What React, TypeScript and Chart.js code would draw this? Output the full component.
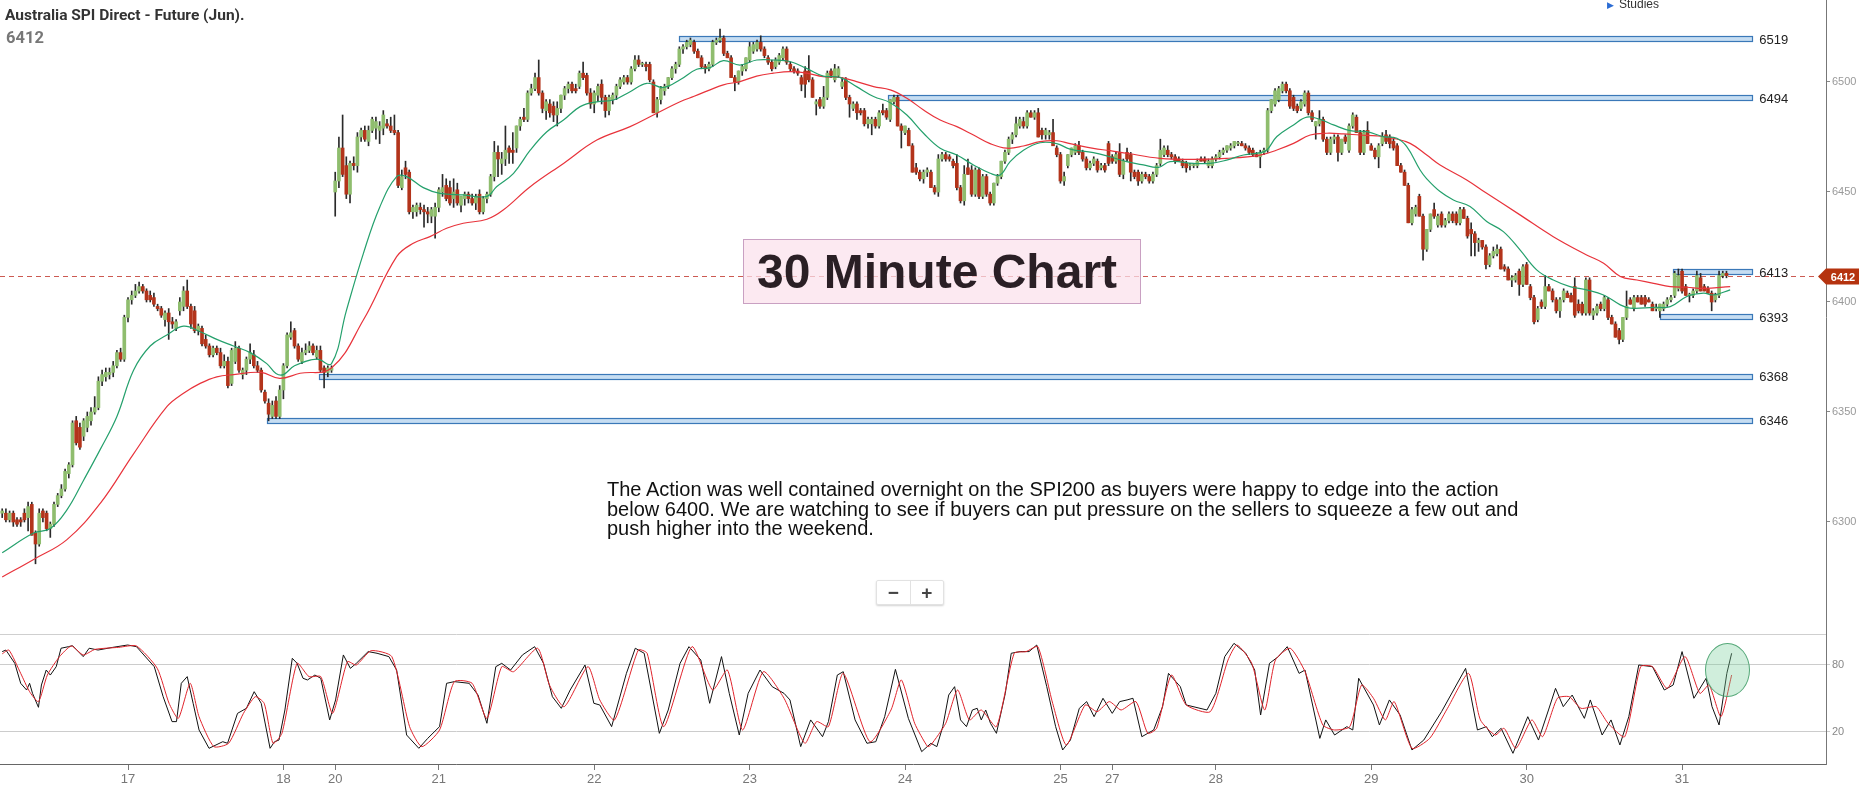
import React, { useEffect, useRef } from "react";
import { Chart, registerables } from "chart.js";

Chart.register(...registerables);

// ---------- DATA ----------
// 30-minute candles: [open, high, low, close]
const candles: [number, number, number, number][] = [
  [6304,6306,6302,6305],[6304,6306,6300,6301],[6301,6305,6300,6304],[6304,6305,6298,6300],[6301,6302,6298,6299],
  [6301,6302,6298,6300],[6304,6306,6300,6301],[6302,6309,6296,6307],[6308,6309,6294,6294],[6295,6296,6281,6290],
  [6290,6306,6289,6304],[6305,6306,6300,6302],[6304,6305,6296,6297],[6297,6300,6293,6299],[6299,6309,6298,6308],
  [6308,6313,6307,6312],[6312,6317,6311,6315],[6315,6324,6314,6323],[6322,6327,6320,6326],[6326,6346,6325,6345],
  [6346,6348,6335,6336],[6343,6345,6333,6334],[6339,6347,6337,6346],[6343,6350,6341,6348],[6346,6352,6344,6350],
  [6350,6357,6349,6352],[6352,6366,6351,6364],[6364,6369,6362,6367],[6366,6370,6364,6368],[6367,6370,6365,6368],
  [6368,6373,6366,6371],[6371,6378,6370,6377],[6377,6379,6373,6374],[6374,6394,6373,6393],[6393,6402,6391,6401],
  [6401,6405,6399,6403],[6403,6408,6402,6405],[6405,6409,6404,6407],[6407,6408,6404,6405],[6405,6406,6400,6401],
  [6403,6405,6400,6401],[6402,6404,6398,6399],[6398,6399,6396,6397],[6397,6398,6393,6394],[6392,6396,6389,6395],
  [6395,6397,6383,6391],[6391,6393,6388,6390],[6388,6392,6387,6391],[6396,6402,6394,6400],[6398,6407,6396,6405],
  [6405,6410,6397,6398],[6398,6399,6388,6390],[6396,6398,6386,6387],[6387,6390,6385,6389],[6388,6389,6380,6381],
  [6383,6385,6379,6380],[6380,6381,6375,6376],[6376,6380,6375,6379],[6379,6380,6376,6377],[6377,6379,6370,6371],
  [6371,6376,6370,6373],[6373,6375,6361,6362],[6363,6379,6362,6378],[6373,6382,6372,6379],[6379,6380,6368,6369],
  [6367,6370,6365,6369],[6369,6375,6367,6374],[6374,6381,6372,6377],[6376,6378,6370,6371],[6371,6373,6368,6369],
  [6369,6370,6359,6360],[6359,6360,6354,6355],[6354,6356,6346,6349],[6348,6355,6347,6353],[6355,6357,6347,6348],
  [6348,6362,6347,6360],[6360,6372,6356,6371],[6371,6386,6370,6385],[6384,6391,6383,6386],[6387,6388,6379,6380],
  [6380,6381,6373,6374],[6373,6379,6372,6377],[6377,6381,6376,6378],[6378,6382,6377,6380],[6380,6381,6376,6377],
  [6375,6380,6374,6378],[6378,6380,6368,6369],[6370,6371,6361,6368],[6368,6371,6366,6370],[6369,6371,6368,6370],
  // 20
  [6450,6459,6439,6455],[6455,6475,6452,6470],[6470,6485,6457,6458],[6462,6466,6447,6449],[6449,6464,6445,6463],
  [6463,6466,6460,6462],[6462,6477,6459,6475],[6475,6479,6473,6478],[6478,6480,6473,6474],[6473,6480,6471,6478],
  [6478,6484,6477,6483],[6479,6484,6474,6482],[6478,6482,6472,6480],[6479,6487,6476,6485],[6481,6483,6479,6480],
  [6480,6484,6477,6478],[6478,6485,6476,6477],[6477,6478,6452,6453],[6452,6460,6451,6457],[6461,6464,6456,6458],
  [6459,6460,6440,6441],[6441,6444,6438,6443],[6441,6445,6439,6444],[6443,6445,6440,6442],[6442,6444,6434,6441],
  [6441,6443,6436,6440],[6439,6443,6436,6442],[6439,6445,6429,6443],[6443,6452,6441,6451],[6450,6458,6448,6452],
  [6453,6456,6446,6447],[6452,6455,6444,6445],[6447,6456,6443,6450],[6451,6454,6444,6445],[6444,6448,6441,6448],
  [6447,6450,6444,6449],[6449,6450,6445,6447],[6447,6449,6444,6445],[6445,6449,6442,6448],[6449,6451,6440,6441],
  [6441,6448,6440,6447],[6447,6450,6445,6449],[6449,6458,6448,6457],[6457,6473,6455,6468],[6468,6471,6457,6465],
  [6463,6468,6458,6465],[6465,6480,6462,6469],[6470,6471,6463,6468],[6469,6477,6463,6468],[6470,6480,6468,6480],
  [6480,6484,6478,6483],[6484,6488,6482,6483],[6483,6496,6482,6495],[6495,6499,6494,6497],[6497,6504,6496,6502],
  [6502,6510,6494,6495],[6495,6496,6486,6488],[6487,6492,6483,6491],[6490,6492,6484,6486],[6489,6491,6482,6485],
  [6485,6491,6480,6488],[6488,6494,6486,6494],[6494,6498,6492,6497],[6497,6500,6495,6499],[6499,6500,6495,6496],
  [6497,6499,6495,6496],[6498,6505,6497,6504],[6504,6509,6501,6502],[6503,6504,6494,6495],[6495,6497,6488,6490],
  [6490,6496,6486,6495],[6494,6499,6491,6498],[6499,6501,6490,6493],[6493,6494,6484,6487],[6487,6494,6485,6493],
  [6492,6495,6490,6494],[6494,6499,6492,6498],[6498,6502,6497,6501],[6500,6503,6499,6502],[6502,6503,6499,6500],
  [6500,6507,6499,6506],[6506,6512,6505,6510],[6510,6512,6507,6508],[6508,6509,6507,6508],[6508,6509,6505,6507],
  [6508,6509,6500,6501],[6500,6501,6486,6486],[6486,6493,6484,6492],[6492,6498,6490,6497],[6496,6499,6494,6498],
  [6498,6502,6497,6502],[6502,6507,6501,6506],[6506,6509,6504,6508],[6508,6516,6507,6515],[6515,6517,6513,6516],
  [6516,6519,6515,6518],[6517,6520,6516,6519],
  // 22-23
  [6518,6519,6513,6514],[6514,6515,6511,6511],[6511,6512,6506,6507],[6507,6508,6504,6506],[6506,6509,6505,6508],
  [6508,6519,6507,6518],[6518,6520,6517,6519],[6519,6524,6518,6520],[6520,6521,6512,6513],[6513,6514,6511,6511],
  [6511,6512,6502,6502],[6502,6503,6496,6500],[6500,6505,6499,6505],[6505,6508,6503,6507],[6506,6511,6505,6511],
  [6510,6518,6509,6516],[6514,6518,6513,6517],[6515,6519,6514,6518],[6518,6521,6514,6515],[6515,6516,6511,6512],
  [6511,6512,6508,6509],[6509,6510,6505,6506],[6507,6511,6506,6510],[6509,6513,6508,6512],[6511,6516,6510,6515],
  [6515,6516,6508,6509],[6508,6509,6505,6506],[6506,6507,6504,6505],[6505,6506,6503,6504],[6502,6503,6496,6499],
  [6505,6507,6493,6499],[6505,6512,6500,6501],[6501,6502,6493,6493],[6490,6492,6485,6491],[6492,6493,6488,6489],
  [6489,6498,6488,6493],[6493,6505,6492,6504],[6505,6506,6502,6503],[6501,6508,6500,6506],[6503,6507,6502,6506],
  [6498,6502,6497,6500],[6501,6502,6492,6493],[6493,6494,6484,6490],[6488,6491,6487,6490],[6490,6491,6483,6486],
  [6487,6488,6485,6486],[6487,6488,6480,6481],[6481,6484,6479,6483],[6481,6484,6476,6483],[6483,6484,6479,6480],
  [6480,6487,6479,6486],[6487,6490,6485,6486],[6487,6488,6483,6484],[6483,6492,6482,6492],[6491,6494,6490,6493],
  [6493,6494,6480,6480],[6480,6481,6470,6478],[6477,6480,6476,6480],[6478,6479,6471,6471],[6471,6472,6459,6459],
  [6461,6463,6458,6459],[6459,6460,6455,6456],[6456,6460,6454,6459],[6459,6461,6457,6460],[6459,6460,6452,6452],
  [6452,6453,6449,6450],[6450,6467,6448,6465],[6465,6468,6464,6467],[6467,6468,6464,6465],[6466,6467,6464,6465],
  [6464,6465,6461,6462],[6463,6467,6451,6452],[6452,6453,6445,6446],[6446,6462,6444,6458],[6461,6465,6458,6458],
  [6460,6462,6448,6449],[6449,6461,6448,6460],[6460,6461,6447,6448],[6448,6458,6447,6457],[6457,6458,6448,6449],
  [6449,6450,6444,6445],[6445,6454,6444,6454],[6454,6458,6453,6457],[6457,6464,6456,6464],[6464,6469,6463,6468],
  [6468,6475,6467,6474],[6474,6477,6472,6476],[6476,6484,6475,6481],[6480,6484,6479,6483],[6482,6484,6479,6480],
  [6480,6487,6479,6486],[6486,6487,6484,6484],[6484,6487,6483,6486],[6486,6488,6475,6475],[6478,6479,6474,6476],
  [6476,6479,6474,6478],[6476,6478,6474,6477],[6477,6483,6471,6471],[6470,6471,6466,6467],[6467,6468,6454,6455],
  [6455,6459,6453,6457],
  // 25-28
  [6462,6467,6461,6467],[6467,6470,6466,6470],[6468,6472,6467,6471],[6471,6473,6467,6468],[6468,6469,6464,6465],
  [6465,6466,6460,6461],[6461,6464,6460,6463],[6463,6466,6462,6465],[6464,6465,6459,6460],[6461,6463,6460,6462],
  [6462,6463,6459,6460],[6472,6473,6462,6463],[6466,6467,6463,6464],[6464,6468,6463,6467],[6468,6472,6457,6458],
  [6458,6465,6456,6464],[6468,6470,6464,6465],[6467,6468,6455,6459],[6459,6460,6456,6457],[6459,6460,6453,6455],
  [6455,6459,6454,6458],[6458,6459,6456,6457],[6457,6458,6454,6455],[6455,6459,6454,6458],[6458,6463,6457,6462],
  [6463,6474,6462,6469],[6467,6471,6466,6470],[6469,6471,6466,6467],[6467,6468,6465,6466],[6466,6467,6463,6464],
  [6465,6466,6464,6464],[6464,6465,6461,6462],[6463,6464,6459,6461],[6462,6463,6460,6462],[6462,6463,6461,6462],
  [6462,6465,6461,6464],[6465,6466,6464,6464],[6465,6466,6463,6464],[6462,6465,6461,6464],[6462,6466,6461,6465],
  [6465,6467,6464,6466],[6466,6469,6465,6468],[6468,6470,6467,6469],[6469,6471,6468,6471],[6470,6472,6469,6471],
  [6471,6473,6470,6473],[6472,6473,6471,6472],[6472,6473,6471,6471],[6471,6472,6469,6470],[6470,6471,6467,6468],
  [6469,6470,6466,6467],[6467,6468,6466,6466],[6466,6469,6461,6468],[6468,6470,6467,6469],[6469,6488,6468,6487],
  [6487,6492,6486,6492],[6490,6497,6489,6496],[6492,6498,6491,6497],[6496,6500,6495,6499],[6499,6500,6495,6496],
  [6496,6497,6488,6489],[6493,6494,6487,6488],[6489,6490,6486,6487],[6488,6492,6487,6491],[6490,6496,6489,6495],
  [6495,6496,6485,6486],[6486,6487,6482,6483],[6480,6482,6474,6482],[6481,6487,6480,6483],[6483,6484,6473,6474],
  [6474,6475,6467,6468],[6468,6475,6467,6474],[6474,6476,6472,6475],[6475,6476,6464,6468],[6468,6474,6467,6474],
  [6475,6476,6472,6473],[6469,6481,6468,6480],[6480,6486,6479,6485],[6484,6485,6477,6477],[6477,6478,6467,6468],
  [6468,6478,6467,6477],[6478,6482,6472,6472],[6471,6472,6469,6469],[6469,6470,6465,6466],[6466,6472,6461,6471],
  [6472,6477,6471,6475],[6476,6478,6472,6473],[6475,6476,6470,6472],[6473,6474,6469,6470],[6471,6472,6462,6462],
  [6462,6463,6459,6459],[6459,6460,6453,6453],[6453,6454,6436,6436],[6436,6443,6435,6442],[6440,6444,6439,6443],
  [6448,6449,6439,6439],[6439,6440,6419,6424],[6424,6433,6423,6433],[6433,6440,6432,6440],[6442,6445,6438,6439],
  // 29-31
  [6435,6440,6434,6439],[6440,6441,6434,6435],[6435,6438,6434,6437],[6437,6441,6436,6440],[6440,6441,6436,6437],
  [6440,6441,6435,6436],[6436,6443,6435,6442],[6442,6443,6438,6438],[6438,6439,6429,6430],[6433,6436,6421,6431],
  [6431,6432,6421,6427],[6427,6429,6423,6428],[6428,6428,6424,6425],[6425,6426,6415,6417],[6417,6422,6416,6421],
  [6421,6425,6420,6423],[6422,6426,6421,6424],[6424,6425,6415,6415],[6416,6417,6414,6415],[6415,6416,6410,6410],
  [6410,6412,6407,6411],[6410,6413,6409,6412],[6414,6415,6403,6408],[6408,6417,6407,6416],[6417,6418,6408,6408],
  [6407,6408,6401,6402],[6402,6403,6390,6391],[6392,6398,6391,6397],[6400,6401,6397,6398],[6398,6412,6397,6407],
  [6407,6408,6405,6405],[6405,6406,6400,6401],[6401,6402,6395,6396],[6396,6402,6393,6401],[6401,6406,6400,6405],
  [6404,6405,6402,6402],[6403,6404,6400,6400],[6407,6411,6393,6394],[6399,6401,6395,6396],[6399,6400,6394,6395],
  [6395,6411,6394,6410],[6410,6411,6394,6395],[6394,6397,6392,6396],[6395,6399,6394,6398],[6399,6400,6396,6397],
  [6397,6403,6396,6402],[6401,6402,6392,6393],[6393,6394,6390,6390],[6390,6391,6384,6384],[6387,6388,6381,6383],
  [6383,6393,6382,6393],[6393,6405,6392,6398],[6401,6402,6399,6399],[6397,6403,6396,6402],[6402,6403,6400,6400],
  [6402,6403,6399,6399],[6402,6403,6398,6399],[6401,6402,6400,6400],[6399,6400,6396,6396],[6397,6399,6396,6397],
  [6396,6399,6393,6399],[6397,6400,6396,6399],[6399,6402,6398,6401],[6401,6403,6400,6402],[6403,6414,6402,6413],
  [6406,6415,6405,6412],[6414,6415,6404,6405],[6407,6408,6403,6403],[6403,6404,6400,6403],[6403,6406,6402,6405],
  [6405,6414,6404,6412],[6411,6413,6405,6405],[6407,6408,6405,6405],[6406,6407,6404,6404],[6404,6405,6396,6400],
  [6401,6404,6400,6403],[6403,6414,6402,6412],[6412,6414,6411,6413],[6413,6414,6411,6412],
];

// Moving averages: [bar index, price]
const emaFast: [number, number][] = [
  [0,6286],[8.5,6295],[13,6297],[17.5,6305.5],[22,6319],[26.5,6333],[31,6348],[35.5,6369],[40,6380],[44.5,6385],
  [49,6389],[53.5,6386.5],[58,6383],[62.5,6380],[67,6377],[71.5,6372],[74,6367.5],[76,6367],[79,6371],[85,6374],
  [89,6372],[93,6396],[97.6,6422],[102,6443],[106.6,6457],[109.3,6457],[113.8,6452],[118.3,6449.4],[124.6,6448.7],
  [131,6448],[133.6,6452.4],[138.2,6458.5],[142.7,6469],[147.2,6477.4],[151.7,6482.7],[156.2,6488.8],[160.7,6491],
  [165.2,6491.8],[169.7,6495.6],[174.2,6499.4],[178.7,6497.5],[183.2,6501],[187.7,6505.8],[191.3,6506.5],
  [194.9,6509.7],[199.4,6507.7],[203.9,6510],[208.4,6510],[212.9,6509.3],[217.4,6506.2],[221.9,6502.7],
  [226.4,6502.1],[230.9,6497.9],[235.5,6493.4],[240,6490.6],[244.5,6485],[249,6476.7],[253.5,6469.9],[258,6466.8],
  [262.5,6462.3],[267,6458.5],[269.7,6457.7],[272.4,6463.8],[276,6469],[280.5,6472.4],[285,6472],[288.6,6469.5],
  [294.9,6467.9],[299.4,6466],[303.9,6463.8],[308.4,6462.3],[312.5,6461.2],[315.6,6463.8],[321.9,6463],[326.4,6463],
  [330.9,6464.5],[335.5,6466.8],[340,6467.9],[341.8,6469.1],[344.5,6475.2],[349,6480.5],[352.6,6484],[356.2,6483],
  [359.8,6480.5],[364.3,6477.9],[368.8,6477.4],[373.3,6475.2],[376.9,6474.4],[379.6,6470.6],[383.2,6460],[385,6456],
  [388.6,6450.2],[392.2,6446.4],[396.7,6443.4],[401.2,6436.6],[405.7,6432],[410.2,6423.7],[414.7,6414.6],
  [419.2,6410],[423.7,6407],[428.2,6405.5],[432.8,6403.2],[437.3,6398.7],[440,6397.2],[446.3,6397.6],[450.8,6397.9],
  [455.3,6402.5],[459.8,6404],[462.5,6403.2],[467,6405.5],
];
const emaSlow: [number, number][] = [
  [0,6275],[8.5,6283],[17.5,6292],[26.5,6308.5],[35.5,6331],[44.5,6352.4],[49,6358.5],[53.5,6363],[58,6366],
  [62.5,6367],[70,6368],[75,6365.3],[80.5,6367.6],[89,6370],[97.6,6391.8],[106.6,6420.6],[111.1,6426.7],
  [115.6,6429.7],[120.1,6433.5],[124.6,6435.8],[131,6437.6],[135.4,6441.8],[142.7,6452.4],[151.7,6463],
  [160.7,6473.6],[169.7,6479.7],[176,6485],[183.2,6491],[187,6493.5],[194.9,6498.7],[199.4,6500.2],[203.9,6502.7],
  [208.4,6504],[212.9,6504.7],[217.4,6504],[221.9,6502.4],[226.4,6502.1],[230.9,6500.2],[235.5,6497.9],[240,6496.4],
  [244.5,6492.6],[249,6487.3],[253.5,6482.7],[258,6479.7],[262.5,6475.9],[267,6472],[271.5,6469.9],[276,6470.9],
  [280.5,6472.9],[285,6473.3],[288.6,6472],[294.9,6469.8],[299.4,6468.8],[303.9,6467.6],[312.9,6465.3],
  [321.9,6464.8],[330.9,6465.3],[340,6466.8],[344.5,6469.1],[349,6472.1],[353.5,6475.9],[358,6476.7],[362.5,6476.4],
  [367,6475.9],[371.5,6475.5],[376,6474.4],[380.5,6472.1],[385,6466.8],[388.6,6462.3],[395.8,6455.5],[401.2,6449.4],
  [410.2,6439.6],[419.2,6429.7],[428.2,6421.4],[432.8,6417.6],[437.3,6411.6],[441.8,6410],[446.3,6408.5],
  [450.8,6407],[455.3,6406.7],[459.8,6406.2],[467,6407],
];

// Stochastic oscillator: [bar index, value]
const stochK: [number, number][] = [
  [0,92],[1,93.4],[3.4,81.5],[5,63.6],[6.6,57.6],[7.4,63.6],[8.2,54.6],[9.8,42.1],[10.6,62.1],[11.9,75.5],[13,71],
  [14.6,78.5],[15.9,95],[17.9,96.4],[19,97.3],[21.9,87.5],[23.5,95],[25.9,93.4],[29.9,95.8],[33.9,97.9],[36.3,96.4],
  [41.1,78.5],[43.5,51.6],[45.9,29.3],[47.1,29.3],[48.4,63.6],[50,69.6],[51.6,45.7],[53.2,21.8],[55.9,5.4],
  [59.6,11.3],[60.9,9.9],[63.6,36.7],[66,41.2],[68.1,56.1],[70,45.7],[72.4,5.4],[73.6,11.3],[74.8,12.8],[76.4,39.7],
  [78.4,86],[79.7,81.5],[81.3,68.1],[82.5,66.6],[84.5,71],[86.1,68.1],[88.5,30.8],[90.1,48.7],[92.2,89],[94.1,77],
  [95.7,81.5],[98.9,92],[101.3,90.5],[104.5,87.5],[106.6,75.5],[109.3,17.3],[112.6,5.4],[115,14.3],[118.2,24.8],
  [120.1,63.6],[122.2,65.1],[126.2,63.6],[128.6,53.1],[131,27.8],[133.4,78.5],[135,81.5],[137.4,75.5],[140.6,89],
  [143.9,96.4],[146.3,81.5],[148.7,51.6],[151.1,41.2],[153.5,57.6],[157.5,80],[159.9,45.7],[161.5,44.2],
  [164.7,24.8],[168.7,72.5],[171.1,95],[173.5,90.5],[177.6,18.8],[180,39.7],[183.2,81.5],[185.6,96.4],[188.8,84.5],
  [191.2,45.7],[194.4,87.5],[196.5,54.6],[199.2,17.3],[201.6,54.6],[204.8,75.5],[208.1,60.6],[211.3,54.6],
  [212.9,48.7],[215.8,6.9],[218.5,30.8],[221.7,15.8],[223.3,29.3],[225.7,71],[227.3,74],[230.5,30.8],[233.7,9.9],
  [236.1,11.3],[238.5,33.7],[241.4,76.1],[244.9,32.2],[248.5,2.4],[251,9.9],[252.6,6.9],[254.2,24.8],[255.8,53.1],
  [257.4,60.6],[259,30.8],[260.6,24.8],[262.2,39.7],[263.5,41.2],[264.6,30.8],[265.8,39.7],[267.1,27.8],
  [268.7,18.8],[271.1,54.6],[272.7,90.5],[275.1,92],[277.5,92],[279.6,97.9],[282.3,60.6],[284.7,24.8],[286.6,3.9],
  [288.7,12.8],[291.1,41.2],[293.1,47.2],[295.1,33.7],[297.5,50.2],[300,36.7],[302,47.2],[304,48.7],[305.6,50.2],
  [308,15.8],[311.2,21.8],[313.6,42.7],[315.2,72.5],[318.4,60.6],[320,44.2],[325.6,39.7],[328,54.6],[330.4,87.5],
  [332.9,99.4],[336.1,90.5],[338.5,75.5],[340.1,35.2],[342.5,81.5],[344.9,87.5],[347.3,96.4],[350.5,72.5],
  [352.1,75.5],[356.1,14.3],[357.7,30.8],[360.1,17.3],[363.4,24.8],[365,21.8],[366.6,68.1],[370.6,44.2],
  [372.2,26.3],[374.9,48.7],[377.8,35.2],[381,3.9],[384.2,12.8],[389,38.2],[393,62.1],[395.5,77],[398.7,21.8],
  [401.1,24.8],[402.7,15.8],[405.1,23.3],[408.3,0.9],[412.3,33.7],[415.2,12.8],[417.9,39.7],[419.8,59.1],
  [421.9,42.7],[424.3,53.1],[427.6,32.2],[429.2,48.7],[432.4,17.3],[434.8,30.8],[437.2,8.4],[439.6,33.7],[442.3,80],
  [446,78.5],[449.2,57.6],[451.6,62.1],[454,92],[457.2,50.2],[460.5,68.1],[462.1,42.7],[464,26.3],[466.1,72.5],
  [467.4,90.5],
];
const stochD: [number, number][] = [
  [0,90],[1.8,93.4],[5,72.5],[7.4,56.1],[9.8,47.2],[12.2,71],[15.5,87.5],[18.7,97],[21.9,89],[25.1,94],[31.5,95.8],
  [36.3,97],[41.9,77],[45.1,45.7],[47.6,32.2],[50.8,63.6],[53.2,33.7],[57.2,6.9],[61.2,9.9],[65.2,36.7],[68.4,51.6],
  [70.8,45.7],[73.2,9.9],[75.6,18.8],[79.7,81.5],[82.9,69.6],[86.1,69.6],[89.3,36.7],[93.3,83],[95.7,80],
  [99.7,92.8],[105.3,87.5],[110.1,24.8],[113.4,6.9],[118.2,21.8],[122.2,65.1],[127,63.6],[131,32.2],[135,78.5],
  [138.2,74],[144.7,95],[147.9,62.1],[151.9,42.7],[158.3,78.5],[161.5,48.7],[165.5,30.8],[171.9,93.4],[174.3,90.5],
  [178.8,24.8],[186.4,96.4],[192,57.6],[196,75.5],[200.1,21.8],[205.7,74],[211.3,50.2],[216.9,9.9],[220.1,29.3],
  [223.3,24.8],[227.3,72.5],[234.5,11.3],[240.2,39.7],[243,66.6],[246.6,27.8],[250.1,6.9],[251,8.4],[255,27.8],
  [258.2,57.6],[261.4,30.8],[264.6,39.7],[268.7,24.8],[273.5,90.5],[276.7,92],[279.9,96.4],[283.9,45.7],
  [287.6,8.4],[292.7,44.2],[295.9,38.2],[299.2,47.2],[302.4,39.7],[306.4,47.2],[309.6,18.8],[312,23.3],[316,71],
  [320,44.2],[326.5,38.2],[331.3,84.5],[333.7,97.9],[337.7,81.5],[341.2,39.7],[344.1,84.5],[348.1,95],[352.1,74],
  [356.9,26.3],[360.1,21.8],[364.2,24.8],[367.4,62.1],[370.6,50.2],[373.8,30.8],[376.2,47.2],[381,5.4],
  [385.8,14.3],[390.6,41.2],[396.3,72.5],[399.5,30.8],[403.5,17.3],[405.9,23.3],[409.1,5.4],[413.4,30.8],
  [416.3,15.8],[420.3,50.2],[423.5,51.6],[426.7,41.2],[430.8,42.7],[434,27.8],[438.5,15.8],[442.8,78.5],[446,78.5],
  [450,59.1],[454.8,87.5],[458.8,54.6],[461.3,62.1],[464.5,33.7],[467.4,71],
];

// Axis labels
const dayLabels = ["17", "18", "20", "21", "22", "23", "24", "25", "27", "28", "29", "30", "31"];
const dayStartBars = [34, 76, 90, 118, 160, 202, 244, 286, 300, 328, 370, 412, 454];
const priceTicks = [6300, 6350, 6400, 6450, 6500];
const oscTicks = [20, 80];

// Support / resistance levels (drawn position, printed label)
const levelValues = [6519.5, 6492.5, 6413.5, 6393.2, 6366, 6346];
const levelLabels = ["6519", "6494", "6413", "6393", "6368", "6346"];
const levelStartBars = [183, 239.5, 451.5, 448, 85.5, 71.5];
const levelEndBar = 473;
const lastPrice = 6412;

// ---------- LAYOUT CONSTANTS ----------
const W = 1862;
const MAIN_H = 634;
const OSC_H = 158;
const AXIS_W = 36;
const X_MIN = -0.595;
const X_MAX = 492.9;
const P_MIN = 6249.09;
const P_MAX = 6537.27;
const O_MIN = -8.66;
const O_MAX = 107.76;
const FONT = 'Arial, "Liberation Sans", sans-serif';

const UP = "#8fbd6e";
const DOWN = "#b3341b";

const levelsPlugin = {
  id: "levels",
  beforeDatasetsDraw(chart: any) {
    const { ctx, scales, chartArea } = chart;
    const x = scales.x, y = scales.y;
    ctx.save();
    const yp = Math.round(y.getPixelForValue(lastPrice)) + 0.5;
    ctx.strokeStyle = "#cc5a52";
    ctx.lineWidth = 1;
    ctx.setLineDash([5, 4]);
    ctx.beginPath();
    ctx.moveTo(chartArea.left, yp);
    ctx.lineTo(chartArea.right - 8, yp);
    ctx.stroke();
    ctx.setLineDash([]);
    levelValues.forEach((v, k) => {
      const x0 = Math.round(x.getPixelForValue(levelStartBars[k])) + 0.5;
      const x1 = Math.round(x.getPixelForValue(levelEndBar)) + 0.5;
      const yc = Math.round(y.getPixelForValue(v));
      ctx.fillStyle = "#c6ddf2";
      ctx.fillRect(x0, yc - 3, x1 - x0, 6);
      ctx.strokeStyle = "#3a78b8";
      ctx.lineWidth = 1.2;
      ctx.strokeRect(x0, yc - 2.5, x1 - x0, 5);
    });
    ctx.restore();
  },
  afterDraw(chart: any) {
    const { ctx, scales, chartArea } = chart;
    const x = scales.x, y = scales.y;
    ctx.save();
    ctx.font = "13px " + FONT;
    ctx.fillStyle = "#222";
    ctx.textBaseline = "middle";
    ctx.textAlign = "left";
    levelValues.forEach((v, k) => {
      const x1 = x.getPixelForValue(levelEndBar);
      ctx.fillText(levelLabels[k], x1 + 7, y.getPixelForValue(v) + 1);
    });
    // last price tag
    const yp = Math.round(y.getPixelForValue(lastPrice)) + 0.5;
    const r = chartArea.right;
    ctx.fillStyle = "#b5330f";
    ctx.beginPath();
    ctx.moveTo(r - 8, yp);
    ctx.lineTo(r, yp - 8);
    ctx.lineTo(r + 33, yp - 8);
    ctx.lineTo(r + 33, yp + 8);
    ctx.lineTo(r, yp + 8);
    ctx.closePath();
    ctx.fill();
    ctx.fillStyle = "#fff";
    ctx.font = "bold 11px " + FONT;
    ctx.textAlign = "center";
    ctx.fillText(String(lastPrice), r + 17, yp + 1);
    ctx.restore();
  },
};

const topLinePlugin = {
  id: "topLine",
  beforeDatasetsDraw(chart: any) {
    const { ctx, chartArea } = chart;
    ctx.save();
    ctx.strokeStyle = "#cfcfcf";
    ctx.lineWidth = 1;
    ctx.beginPath();
    ctx.moveTo(chartArea.left, chartArea.top + 0.5);
    ctx.lineTo(chartArea.right, chartArea.top + 0.5);
    ctx.stroke();
    ctx.restore();
  },
};

export default function App() {
  const mainRef = useRef<HTMLCanvasElement>(null);
  const oscRef = useRef<HTMLCanvasElement>(null);

  useEffect(() => {
    document.body.style.margin = "0";
    Chart.defaults.font.family = FONT;

    const main = new Chart(mainRef.current as HTMLCanvasElement, {
      type: "bar",
      data: {
        datasets: [
          {
            type: "line",
            data: emaFast.map(([x, y]) => ({ x, y })),
            borderColor: "#24a06c",
            borderWidth: 1.2,
            pointRadius: 0,
            tension: 0.4,
            order: -2,
          } as any,
          {
            type: "line",
            data: emaSlow.map(([x, y]) => ({ x, y })),
            borderColor: "#e8333b",
            borderWidth: 1.2,
            pointRadius: 0,
            tension: 0.4,
            order: -1,
          } as any,
          {
            type: "bar",
            data: candles.map((c, i) => ({ x: i, y: [Math.min(c[0], c[3]), Math.max(c[0], c[3])] })),
            backgroundColor: candles.map((c) => (c[3] >= c[0] ? UP : DOWN)),
            barThickness: 3,
            maxBarThickness: 3,
            minBarLength: 1,
            grouped: false,
            order: 0,
          } as any,
          {
            type: "bar",
            data: candles.map((c, i) => ({ x: i, y: [c[2], c[1]] })),
            backgroundColor: "#2a2a2a",
            barThickness: 1,
            maxBarThickness: 1,
            grouped: false,
            order: 1,
          } as any,
        ],
      },
      options: {
        animation: false,
        responsive: false,
        maintainAspectRatio: false,
        events: [],
        layout: { padding: 0 },
        plugins: { legend: { display: false }, tooltip: { enabled: false } },
        scales: {
          x: { type: "linear", min: X_MIN, max: X_MAX, display: false, offset: false },
          y: {
            type: "linear",
            position: "right",
            min: P_MIN,
            max: P_MAX,
            beginAtZero: false,
            afterBuildTicks: (s: any) => {
              s.ticks = priceTicks.map((v) => ({ value: v }));
            },
            afterFit: (s: any) => {
              s.width = AXIS_W;
              s.paddingTop = 0;
              s.paddingBottom = 0;
            },
            grid: { drawOnChartArea: false, drawTicks: true, tickLength: 4, color: "#888" },
            border: { display: true, color: "#777" },
            ticks: { color: "#999", font: { size: 11 }, padding: 2, callback: (v: any) => String(v) },
          },
        },
      } as any,
      plugins: [levelsPlugin],
    });

    const osc = new Chart(oscRef.current as HTMLCanvasElement, {
      type: "line",
      data: {
        datasets: [
          {
            data: stochK.map(([x, y]) => ({ x, y })),
            borderColor: "#111",
            borderWidth: 1,
            pointRadius: 0,
            tension: 0,
            order: 1,
          },
          {
            data: stochD.map(([x, y]) => ({ x, y })),
            borderColor: "#e0242c",
            borderWidth: 1,
            pointRadius: 0,
            tension: 0.2,
            order: 0,
          },
        ],
      },
      options: {
        animation: false,
        responsive: false,
        maintainAspectRatio: false,
        events: [],
        layout: { padding: 0 },
        plugins: { legend: { display: false }, tooltip: { enabled: false } },
        scales: {
          x: {
            type: "linear",
            min: X_MIN,
            max: X_MAX,
            offset: false,
            afterBuildTicks: (s: any) => {
              s.ticks = dayStartBars.map((v) => ({ value: v }));
            },
            afterFit: (s: any) => {
              s.height = OSC_H - 130;
              s.paddingLeft = 0;
              s.paddingRight = 0;
            },
            grid: { drawOnChartArea: false, drawTicks: true, tickLength: 6, color: "#777" },
            border: { display: true, color: "#666" },
            ticks: {
              autoSkip: false,
              maxRotation: 0,
              color: "#777",
              font: { size: 13 },
              padding: 2,
              callback: (_v: any, i: number) => dayLabels[i] ?? "",
            },
          },
          y: {
            type: "linear",
            position: "right",
            min: O_MIN,
            max: O_MAX,
            afterBuildTicks: (s: any) => {
              s.ticks = oscTicks.map((v) => ({ value: v }));
            },
            afterFit: (s: any) => {
              s.width = AXIS_W;
              s.paddingTop = 0;
              s.paddingBottom = 0;
            },
            grid: { color: "#cccccc", drawTicks: true, tickLength: 4 },
            border: { display: true, color: "#777" },
            ticks: { color: "#888", font: { size: 11 }, padding: 2, callback: (v: any) => String(v) },
          },
        },
      } as any,
      plugins: [topLinePlugin],
    });

    return () => {
      main.destroy();
      osc.destroy();
    };
  }, []);

  return (
    <div
      style={{
        position: "absolute",
        left: 0,
        top: 0,
        width: W,
        height: MAIN_H + OSC_H,
        background: "#fff",
        overflow: "hidden",
        fontFamily: FONT,
      }}
    >
      <canvas
        ref={mainRef}
        width={W}
        height={MAIN_H}
        style={{ position: "absolute", left: 0, top: 0, width: W, height: MAIN_H }}
      />
      <canvas
        ref={oscRef}
        width={W}
        height={OSC_H}
        style={{ position: "absolute", left: 0, top: MAIN_H, width: W, height: OSC_H }}
      />

      {/* title */}
      <div
        style={{
          position: "absolute",
          left: 5,
          top: 6,
          fontFamily: "Roboto, sans-serif",
          fontWeight: 700,
          fontSize: 15.5,
          lineHeight: "18px",
          color: "#333",
          whiteSpace: "nowrap",
        }}
      >
        Australia SPI Direct - Future (Jun).
      </div>
      <div
        style={{
          position: "absolute",
          left: 6,
          top: 29,
          fontFamily: "Roboto, sans-serif",
          fontWeight: 700,
          fontSize: 16.5,
          lineHeight: "18px",
          color: "#777",
        }}
      >
        6412
      </div>

      {/* studies */}
      <div
        style={{
          position: "absolute",
          left: 1607,
          top: -3,
          fontSize: 12,
          lineHeight: "14px",
          color: "#333",
          whiteSpace: "nowrap",
        }}
      >
        <span style={{ color: "#2b6cd4", fontSize: 9, marginRight: 5 }}>▶</span>Studies
      </div>

      {/* label box */}
      <div
        style={{
          position: "absolute",
          left: 743,
          top: 239,
          width: 398,
          height: 65,
          boxSizing: "border-box",
          background: "rgba(251, 224, 236, 0.72)",
          border: "1px solid #c9a0c2",
          paddingLeft: 13,
          fontWeight: 700,
          fontSize: 48,
          lineHeight: "63px",
          color: "#2a1f25",
          whiteSpace: "nowrap",
        }}
      >
        30 Minute Chart
      </div>

      {/* commentary */}
      <div
        style={{
          position: "absolute",
          left: 607,
          top: 480,
          fontSize: 20,
          lineHeight: "19.5px",
          color: "#111",
          whiteSpace: "nowrap",
        }}
      >
        The Action was well contained overnight on the SPI200 as buyers were happy to edge into the action
        <br />
        below 6400. We are watching to see if buyers can put pressure on the sellers to squeeze a few out and
        <br />
        push higher into the weekend.
      </div>

      {/* zoom buttons */}
      <div
        style={{
          position: "absolute",
          left: 876,
          top: 580,
          width: 68,
          height: 25,
          boxSizing: "border-box",
          display: "flex",
          background: "#fff",
          border: "1px solid #e2e2e2",
          borderRadius: 2,
          boxShadow: "0 1px 2px rgba(0,0,0,0.18)",
          color: "#444",
          fontWeight: 700,
          fontSize: 19,
        }}
      >
        <div
          style={{
            flex: 1,
            display: "flex",
            alignItems: "center",
            justifyContent: "center",
            borderRight: "1px solid #e2e2e2",
          }}
        >
          −
        </div>
        <div style={{ flex: 1, display: "flex", alignItems: "center", justifyContent: "center" }}>+</div>
      </div>

      {/* highlight ellipse */}
      <div
        style={{
          position: "absolute",
          left: 1705,
          top: 643,
          width: 45,
          height: 54,
          boxSizing: "border-box",
          borderRadius: "50%",
          background: "rgba(120, 205, 155, 0.35)",
          border: "1px solid #55a878",
        }}
      />
    </div>
  );
}
